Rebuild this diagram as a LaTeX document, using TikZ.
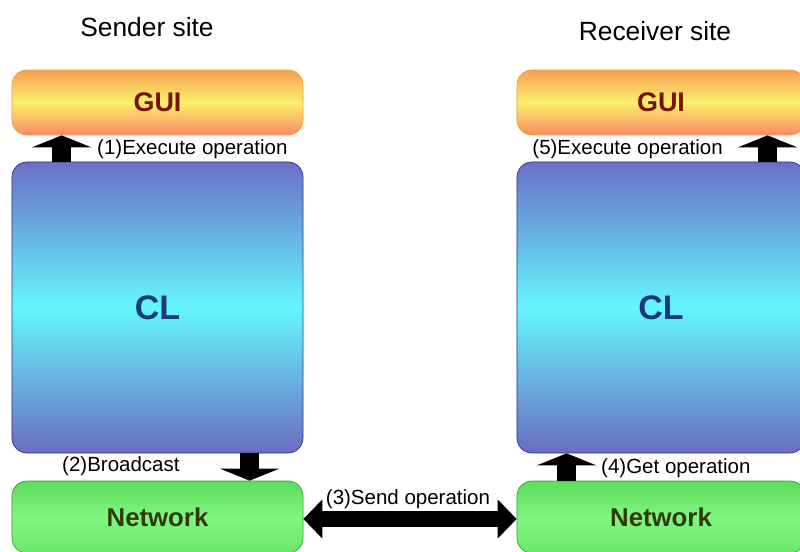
\documentclass[tikz,border=0pt]{standalone}
\usepackage{fontspec}
\setmainfont{Liberation Sans}
\usetikzlibrary{arrows.meta}
\definecolor{guitop}{HTML}{F6A054}
\definecolor{guimid}{HTML}{FAF06A}
\definecolor{guibot}{HTML}{F98A64}
\definecolor{guiline}{HTML}{F0A040}
\definecolor{guitext}{HTML}{7A1010}
\definecolor{cltop}{HTML}{6A6FC6}
\definecolor{clmid}{HTML}{64F6FC}
\definecolor{clbot}{HTML}{6A6CC0}
\definecolor{clline}{HTML}{2E3590}
\definecolor{cltext}{HTML}{1A3A7A}
\definecolor{nettop}{HTML}{5CDC5C}
\definecolor{netmid}{HTML}{80F680}
\definecolor{netbot}{HTML}{6AE86A}
\definecolor{netline}{HTML}{3C9C3C}
\definecolor{nettext}{HTML}{2F3A05}
\tikzset{
  guibox/.style={draw=guiline, line width=0.6pt, rounded corners=0.45cm,
    top color=guitop, bottom color=guibot, middle color=guimid,
    minimum height=1.95cm, inner sep=0pt,
    font=\fontsize{23}{26}\selectfont\bfseries, text=guitext},
  clbox/.style={draw=clline, line width=0.6pt, rounded corners=0.45cm,
    top color=cltop, bottom color=clbot, middle color=clmid,
    minimum height=8.73cm, inner sep=0pt,
    font=\fontsize{29}{32}\selectfont\bfseries, text=cltext},
  netbox/.style={draw=netline, line width=0.6pt, rounded corners=0.45cm,
    top color=nettop, bottom color=netbot, middle color=netmid,
    minimum height=2.16cm, inner sep=0pt,
    font=\fontsize{22}{25}\selectfont\bfseries, text=nettext},
  title/.style={font=\fontsize{22.5}{26}\selectfont, inner sep=0pt},
  lab/.style={font=\fontsize{17.5}{20}\selectfont, inner sep=0pt},
  blockarrow/.style={line width=0.57cm, draw=black,
    -{Triangle[width=1.77cm,length=0.36cm]}},
  dblarrow/.style={line width=0.48cm, draw=black,
    {Triangle[width=1.14cm,length=0.57cm]}-{Triangle[width=1.14cm,length=0.57cm]}},
}
\begin{document}
\begin{tikzpicture}[x=0.03cm,y=-0.03cm]
\clip (0,0) rectangle (800,551);
\useasboundingbox (0,0) rectangle (800,551);
\fill[white] (0,0) rectangle (800,551);
% titles
\node[title] (t1) at (147,27) {Sender site};
\node[title] (t2) at (655,31) {Receiver site};
% left column
\node[guibox, minimum width=8.73cm] (gui1) at (157.5,102.5) {GUI};
\node[clbox, minimum width=8.73cm] (cl1) at (157.5,307.5) {CL};
\node[netbox, minimum width=8.73cm] (net1) at (157.5,517) {Network};
% right column
\node[guibox, minimum width=8.64cm] (gui2) at (661,102.5) {GUI};
\node[clbox, minimum width=8.64cm] (cl2) at (661,307.5) {CL};
\node[netbox, minimum width=8.64cm] (net2) at (661,517) {Network};
% arrows
\draw[blockarrow] ([xshift=50*0.03cm]cl1.north west) -- ([xshift=50*0.03cm]gui1.south west);
\draw[blockarrow] ([xshift=251*0.03cm]cl2.north west) -- ([xshift=251*0.03cm]gui2.south west);
\draw[blockarrow] ([xshift=238*0.03cm]cl1.south west) -- ([xshift=238*0.03cm]net1.north west);
\draw[blockarrow] ([xshift=50*0.03cm]net2.north west) -- ([xshift=50*0.03cm]cl2.south west);
\draw[dblarrow] ([yshift=-2*0.03cm]net1.east) -- ([yshift=-2*0.03cm]net2.west);
% labels
\node[lab, anchor=west] (l1) at (97,149) {(1)Execute operation};
\node[lab, anchor=east] (l5) at (723,149) {(5)Execute operation};
\node[lab, anchor=west] (l2) at (62,466) {(2)Broadcast};
\node[lab, anchor=west] (l4) at (601,468) {(4)Get operation};
\node[lab] (l3) at (408,499) {(3)Send operation};
\end{tikzpicture}
\end{document}
